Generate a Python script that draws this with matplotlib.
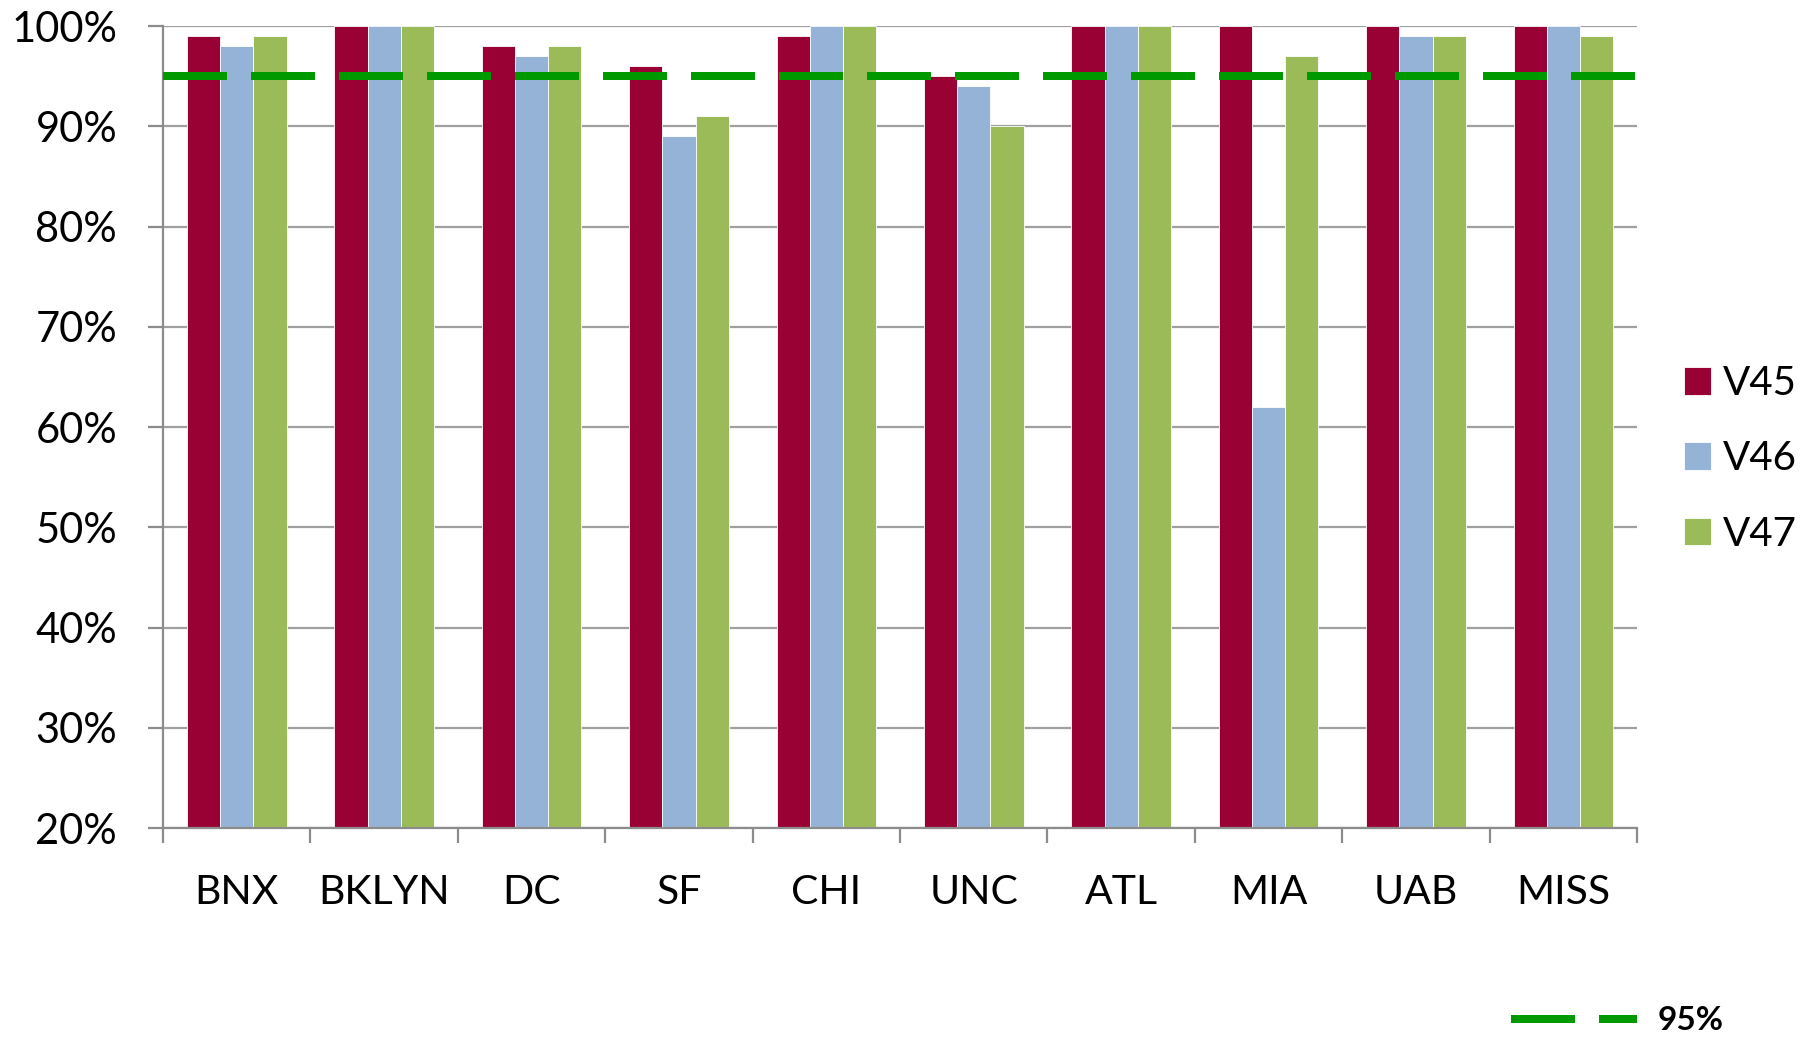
import matplotlib
matplotlib.use("Agg")
import matplotlib.pyplot as plt
from matplotlib.lines import Line2D
from matplotlib.ticker import FixedLocator, FuncFormatter
import numpy as np

plt.rcParams['font.family'] = ['Lato', 'DejaVu Sans']

# data
sites = ['BNX', 'BKLYN', 'DC', 'SF', 'CHI', 'UNC', 'ATL', 'MIA', 'UAB', 'MISS']
v45 = [0.99, 1.00, 0.98, 0.96, 0.99, 0.95, 1.00, 1.00, 1.00, 1.00]
v46 = [0.98, 1.00, 0.97, 0.89, 1.00, 0.94, 1.00, 0.62, 0.99, 1.00]
v47 = [0.99, 1.00, 0.98, 0.91, 1.00, 0.90, 1.00, 0.97, 0.99, 0.99]
series_names = ['V45', 'V46', 'V47']
target = 0.95
target_label = '95%'

colors = ['#990033', '#95B3D7', '#9BBB59']
line_col = '#009900'
grey = '#8C8C8C'
dash = (0, (8, 3))

fig = plt.figure(figsize=(18.2, 10.43), dpi=100)
ax = fig.add_axes([0.0896, 0.2061, 0.8099, 0.7689])

x = np.arange(len(sites)) + 0.5
w = 0.225
for k, vals in enumerate([v45, v46, v47]):
    ax.bar(x + (k - 1) * w, vals, width=w, color=colors[k],
           edgecolor='white', linewidth=0.6, label=series_names[k], zorder=2)

ax.axhline(target, color=line_col, linewidth=5.76,
           linestyle=dash, dash_capstyle='butt', zorder=3)

ax.set_xlim(0, len(sites))
ax.set_ylim(0.2, 1.0)
ax.set_yticks(np.arange(0.2, 1.01, 0.1))
ax.yaxis.set_major_formatter(FuncFormatter(lambda v, p: '%d%%' % round(v * 100)))
ax.yaxis.grid(True, color='#A0A0A0', linewidth=1.6, zorder=0)
ax.set_axisbelow(True)

ax.set_xticks(x)
ax.set_xticklabels(sites)
ax.xaxis.set_minor_locator(FixedLocator(np.arange(0, len(sites) + 1)))
ax.tick_params(axis='x', which='major', length=0, pad=33, labelsize=29.5)
ax.tick_params(axis='x', which='minor', length=11, width=1.6, color=grey, direction='out')
ax.tick_params(axis='y', length=11, width=1.6, color=grey, pad=22, labelsize=30)

for s in ['top', 'right']:
    ax.spines[s].set_visible(False)
for s in ['left', 'bottom']:
    ax.spines[s].set_color(grey)
    ax.spines[s].set_linewidth(1.6)

leg = ax.legend(loc='center left', bbox_to_anchor=(0.914, 0.56),
                bbox_transform=fig.transFigure, frameon=False, fontsize=29,
                handlelength=0.68, handleheight=0.68, handletextpad=0.3,
                labelspacing=0.95, borderpad=0)

# bottom legend for the target line
fig.add_artist(Line2D([1511 / 1820, 1637 / 1820], [1 - 1019 / 1043, 1 - 1019 / 1043],
                      transform=fig.transFigure, color=line_col, linewidth=5.76,
                      linestyle=dash, dash_capstyle='butt'))
fig.text(1658 / 1820, 1 - 1020 / 1043, target_label, fontsize=24, fontweight='bold',
         va='center', ha='left')

fig.savefig('out.png', dpi=100, facecolor='white')
